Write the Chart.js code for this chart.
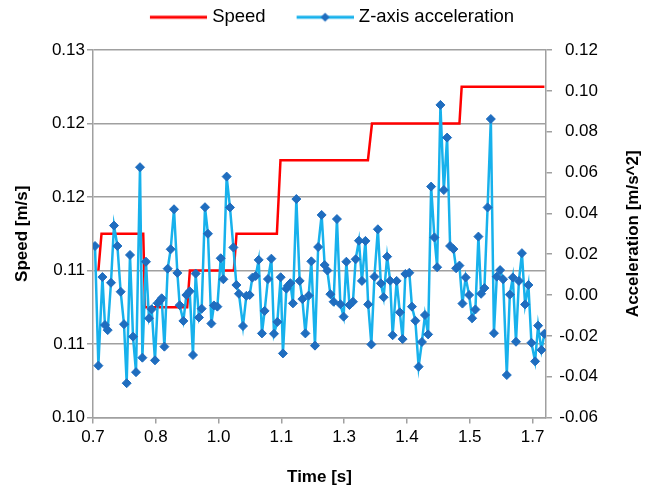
<!DOCTYPE html>
<html>
<head>
<meta charset="utf-8">
<script src="https://cdn.jsdelivr.net/npm/chart.js@4.4.1/dist/chart.umd.min.js"></script>
<style>
  html, body { margin: 0; padding: 0; background: #fff; }
</style>
</head>
<body>
<canvas id="SpeedAccChart" width="659" height="492"></canvas>
<script>
// Z-axis acceleration samples [s] / [m/s^2]
const timeAcc = [
    0.7045, 0.7120, 0.7210, 0.7267, 0.7328, 0.7401, 0.7468, 0.7544, 0.7617, 0.7691,
    0.7751, 0.7825, 0.7892, 0.7959, 0.8048, 0.8101, 0.8181, 0.8248, 0.8308, 0.8382,
    0.8442, 0.8493, 0.8531, 0.8592, 0.8665, 0.8732, 0.8806, 0.8881, 0.8933, 0.9015,
    0.9082, 0.9156, 0.9229, 0.9289, 0.9363, 0.9423, 0.9497, 0.9563, 0.9639, 0.9697,
    0.9773, 0.9847, 0.9907, 0.9980, 1.0054, 1.0130, 1.0197, 1.0254, 1.0344, 1.0419,
    1.0493, 1.0553, 1.0627, 1.0694, 1.0767, 1.0827, 1.0901, 1.0977, 1.1035, 1.1110,
    1.1184, 1.1235, 1.1311, 1.1347, 1.1400, 1.1458, 1.1534, 1.1608, 1.1668, 1.1735,
    1.1808, 1.1868, 1.1949, 1.2020, 1.2098, 1.2165, 1.2225, 1.2292, 1.2365, 1.2439,
    1.2515, 1.2588, 1.2649, 1.2718, 1.2796, 1.2856, 1.2929, 1.2996, 1.3074, 1.3135,
    1.3206, 1.3275, 1.3351, 1.3418, 1.3480, 1.3558, 1.3625, 1.3681, 1.3770, 1.3841,
    1.3904, 1.3964, 1.4053, 1.4111, 1.4187, 1.4260, 1.4334, 1.4401, 1.4472, 1.4539,
    1.4612, 1.4673, 1.4746, 1.4822, 1.4895, 1.4962, 1.5036, 1.5096, 1.5170, 1.5237,
    1.5308, 1.5386, 1.5453, 1.5526, 1.5593, 1.5653, 1.5727, 1.5798, 1.5870, 1.5939,
    1.6003, 1.6077, 1.6144, 1.6226, 1.6293, 1.6360, 1.6431, 1.6496, 1.6563, 1.6634,
    1.6708, 1.6775, 1.6857, 1.6924, 1.6998, 1.7065
];
const accZ = [
    0.0240, -0.0346, 0.0088, -0.0147, -0.0172, 0.0060, 0.0340, 0.0240, 0.0016, -0.0143,
    -0.0432, 0.0196, -0.0204, -0.0378, 0.0626, -0.0307, 0.0163, -0.0114, -0.0070, -0.0320,
    -0.0040, -0.0028, -0.0016, -0.0253, 0.0129, 0.0224, 0.0420, 0.0108, -0.0050, -0.0127,
    0.0000, 0.0018, -0.0294, 0.0105, -0.0110, -0.0067, 0.0430, 0.0300, -0.0140, -0.0051,
    -0.0057, 0.0180, 0.0077, 0.0580, 0.0429, 0.0233, 0.0049, 0.0006, -0.0152, -0.0004,
    0.0000, 0.0085, 0.0093, 0.0172, -0.0188, -0.0078, 0.0078, 0.0178, -0.0190, -0.0132,
    0.0087, -0.0286, 0.0031, 0.0045, 0.0058, -0.0041, 0.0470, 0.0069, -0.0020, -0.0188,
    -0.0003, 0.0165, -0.0248, 0.0235, 0.0392, 0.0147, 0.0120, 0.0004, -0.0033, 0.0372,
    -0.0045, -0.0106, 0.0163, -0.0049, -0.0033, 0.0175, 0.0266, 0.0069, 0.0265, -0.0046,
    -0.0242, 0.0090, 0.0322, 0.0057, -0.0011, 0.0188, 0.0070, -0.0197, 0.0069, -0.0085,
    -0.0216, 0.0103, 0.0109, -0.0057, -0.0126, -0.0351, -0.0230, -0.0098, -0.0193, 0.0531,
    0.0282, 0.0136, 0.0931, 0.0514, 0.0771, 0.0240, 0.0225, 0.0131, 0.0144, -0.0042,
    0.0086, 0.0000, -0.0114, -0.0071, 0.0286, 0.0006, 0.0034, 0.0429, 0.0862, -0.0187,
    0.0090, 0.0122, 0.0077, -0.0392, 0.0002, 0.0086, -0.0229, 0.0069, 0.0205, -0.0046,
    0.0049, -0.0234, -0.0325, -0.0150, -0.0269, -0.0190
];
// Speed [m/s]
const timeSpeed = [0.712, 0.719, 0.812, 0.816, 0.910, 0.916, 1.014, 1.020, 1.110, 1.118, 1.313, 1.322, 1.517, 1.522, 1.7065];
const speed = [0.112, 0.115, 0.115, 0.109, 0.109, 0.112, 0.112, 0.115, 0.115, 0.121, 0.121, 0.124, 0.124, 0.127, 0.127];
// axis ticks
const timeTicks = [0.70, 0.84, 0.98, 1.12, 1.26, 1.40, 1.54, 1.68];
const speedTicks = [0.100, 0.106, 0.112, 0.118, 0.124, 0.130];
const accTicks = [-0.06, -0.04, -0.02, 0.00, 0.02, 0.04, 0.06, 0.08, 0.10, 0.12];

const gridGray = '#a0a0a0';
const fontFamily = '"Liberation Sans", Arial, sans-serif';

// legend sample: blank on the left, 57px line on the right (marker optional)
function legendIcon(lineColor, markerColor) {
    const c = document.createElement('canvas');
    c.width = 84;
    c.height = 12;
    const g = c.getContext('2d');
    g.strokeStyle = lineColor;
    g.lineWidth = 3;
    g.beginPath();
    g.moveTo(27, 6);
    g.lineTo(84, 6);
    g.stroke();
    if (markerColor) {
        g.fillStyle = markerColor;
        g.beginPath();
        g.moveTo(51, 6);
        g.lineTo(55.5, 1.5);
        g.lineTo(60, 6);
        g.lineTo(55.5, 10.5);
        g.closePath();
        g.fill();
    }
    return c;
}
const legendIcons = [legendIcon('#ff0000'), legendIcon('#17b1ec', '#1f6dbf')];

// fixed legend band height, and nudge the row to where the reference has it
const legendShift = 21.5;
const fixLegend = {
    id: 'fixLegend',
    beforeLayout(chart) {
        const lg = chart.legend;
        if (lg && !lg._patched) {
            const fit = lg.fit.bind(lg);
            lg.fit = function () { fit(); this.height = 50; };
            const draw = lg.draw.bind(lg);
            lg.draw = function () {
                this.left += legendShift; this.right += legendShift;
                draw();
                this.left -= legendShift; this.right -= legendShift;
            };
            lg._patched = true;
        }
    }
};

// right axis title reads bottom-to-top like the left one
const rightTitle = {
    id: 'rightTitle',
    afterDraw(chart) {
        const {ctx, chartArea} = chart;
        ctx.save();
        ctx.translate(chart.width - 26, (chartArea.top + chartArea.bottom) / 2);
        ctx.rotate(-Math.PI / 2);
        ctx.font = 'bold 17px ' + fontFamily;
        ctx.fillStyle = '#000';
        ctx.textAlign = 'center';
        ctx.textBaseline = 'middle';
        ctx.fillText('Acceleration [m/s^2]', 0, 0);
        ctx.restore();
    }
};

const ctxSpeedAcc = document.getElementById('SpeedAccChart');
const dataSpeedAcc = {
    datasets: [
        {
            label: 'Speed',
            data: timeSpeed.map((t, i) => ({x: t, y: speed[i]})),
            yAxisID: 'ySpeed',
            borderColor: '#ff0000',
            borderWidth: 2.5,
            pointRadius: 0,
            tension: 0,
            order: 1
        },
        {
            label: 'Z-axis acceleration',
            data: timeAcc.map((t, i) => ({x: t, y: accZ[i]})),
            yAxisID: 'yAcc',
            borderColor: '#17b1ec',
            borderWidth: 2.5,
            pointStyle: 'rectRot',
            pointRadius: 4.5,
            pointBackgroundColor: '#1f6dbf',
            pointBorderColor: '#1f6dbf',
            pointBorderWidth: 1,
            tension: 0,
            order: 0
        }
    ]
};
const configSpeedAcc = {
    type: 'line',
    data: dataSpeedAcc,
    plugins: [fixLegend, rightTitle],
    options: {
        responsive: false,
        animation: false,
        layout: { padding: { left: 0, top: 0, bottom: 0, right: 61 } },
        plugins: {
            tooltip: { enabled: false },
            legend: {
                position: 'top',
                labels: {
                    usePointStyle: true,
                    pointStyleWidth: 76,
                    padding: 8,
                    color: '#000',
                    font: { family: fontFamily, size: 18.5 },
                    generateLabels: chart => chart.data.datasets.map((ds, i) => ({
                        text: ds.label,
                        pointStyle: legendIcons[i],
                        fontColor: '#000',
                        datasetIndex: i,
                        hidden: false,
                        lineWidth: 0
                    }))
                }
            }
        },
        scales: {
            x: {
                type: 'linear',
                min: 0.70,
                max: 1.71,
                afterBuildTicks: axis => { axis.ticks = timeTicks.map(v => ({value: v})); },
                afterFit: axis => { axis.height = 74.5; },
                ticks: {
                    callback: v => v.toFixed(1),
                    color: '#000',
                    padding: 4,
                    maxRotation: 0,
                    autoSkip: false,
                    font: { family: fontFamily, size: 17 }
                },
                grid: { drawOnChartArea: false, color: gridGray, lineWidth: 1.5, tickLength: 6 },
                border: { color: gridGray, width: 1.5 },
                title: {
                    display: true,
                    text: 'Time [s]',
                    color: '#000',
                    padding: { top: 0, bottom: 4 },
                    font: { family: fontFamily, size: 17, weight: 'bold' }
                }
            },
            ySpeed: {
                type: 'linear',
                position: 'left',
                min: 0.100,
                max: 0.130,
                afterBuildTicks: axis => { axis.ticks = speedTicks.map(v => ({value: v})); },
                afterFit: axis => { axis.width = 93; },
                ticks: {
                    callback: v => v.toFixed(2),
                    color: '#000',
                    padding: 2,
                    font: { family: fontFamily, size: 17 }
                },
                grid: { color: gridGray, lineWidth: 1.5, tickLength: 6 },
                border: { color: gridGray, width: 1.5 },
                title: {
                    display: true,
                    text: 'Speed [m/s]',
                    color: '#000',
                    padding: { top: 12, bottom: 0 },
                    font: { family: fontFamily, size: 17, weight: 'bold' }
                }
            },
            yAcc: {
                type: 'linear',
                position: 'right',
                min: -0.06,
                max: 0.12,
                afterBuildTicks: axis => { axis.ticks = accTicks.map(v => ({value: v})); },
                afterFit: axis => { axis.width = 52; },
                ticks: {
                    callback: v => v.toFixed(2),
                    color: '#000',
                    padding: 5,
                    crossAlign: 'far',
                    font: { family: fontFamily, size: 17 }
                },
                grid: { drawOnChartArea: false, color: gridGray, lineWidth: 1.5, tickLength: 6 },
                border: { color: gridGray, width: 1.5 }
            }
        }
    }
};
new Chart(ctxSpeedAcc, configSpeedAcc);
</script>
</body>
</html>
